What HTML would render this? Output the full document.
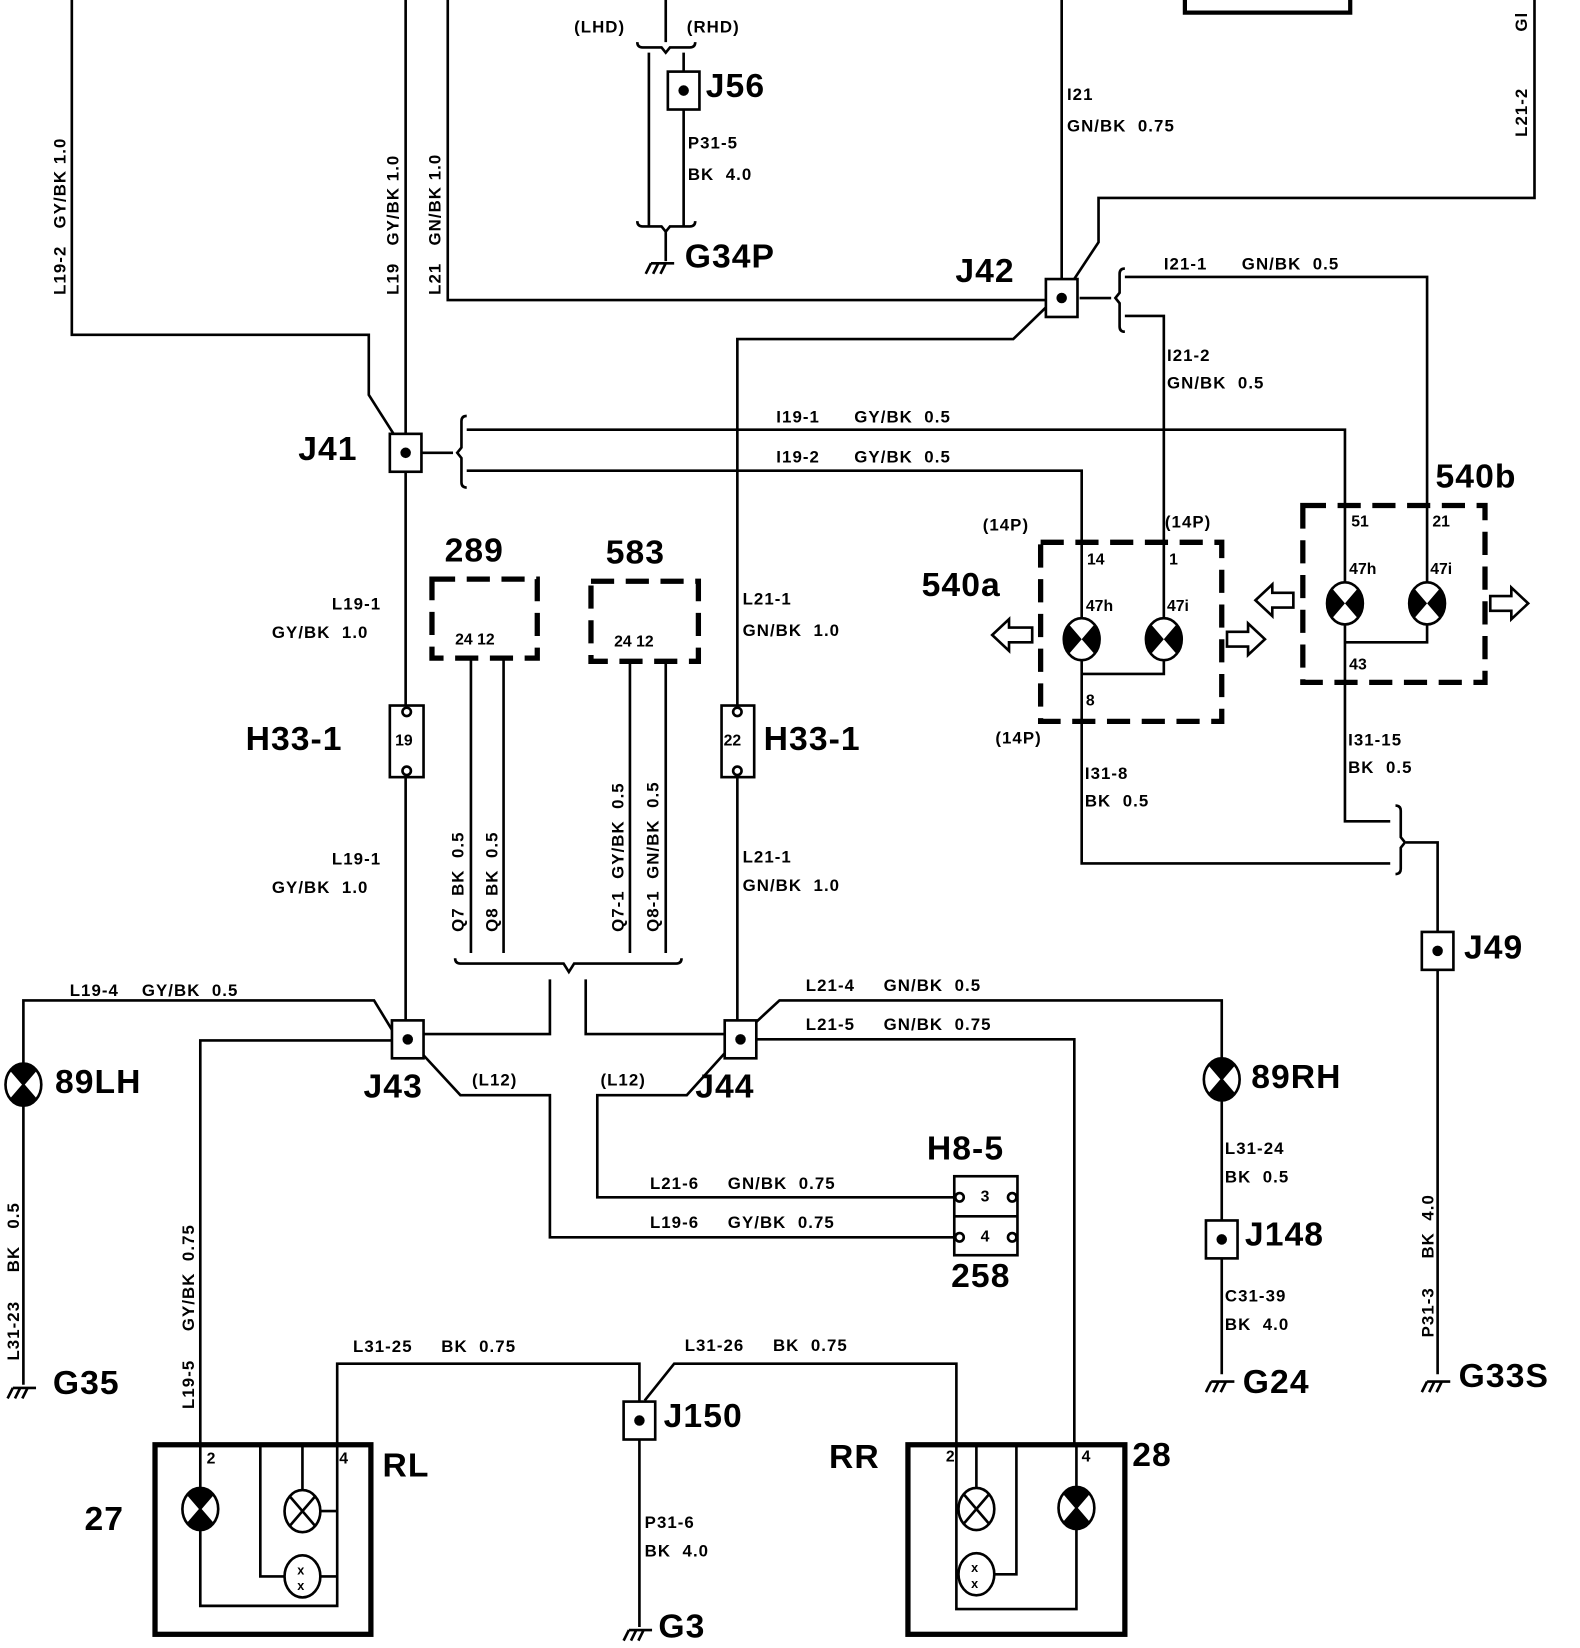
<!DOCTYPE html>
<html><head><meta charset="utf-8"><style>
html,body{margin:0;padding:0;background:#fff}
svg{display:block}
text{font-family:"Liberation Sans",sans-serif;font-weight:bold;fill:#000;white-space:pre}
.s{font-size:16px;letter-spacing:1px}
.L{font-size:32px;letter-spacing:1px}
.p{font-size:15px}
</style></head><body>
<svg width="1580" height="1648" viewBox="0 0 1500 1565" xmlns="http://www.w3.org/2000/svg" xml:space="preserve">
<defs>
<g id="bv"><ellipse cx="0" cy="0" rx="17" ry="20" fill="#fff" stroke="#000" stroke-width="2.5"/><path d="M0,0 L-12,-14 A17,20 0 0 1 12,-14 Z M0,0 L-12,14 A17,20 0 0 0 12,14 Z" fill="#000"/><path d="M-12,-14 L12,14 M12,-14 L-12,14" stroke="#000" stroke-width="2"/></g>
<g id="bh"><ellipse cx="0" cy="0" rx="17" ry="20" fill="#fff" stroke="#000" stroke-width="2.5"/><path d="M0,0 L-12,-14 A17,20 0 0 0 -12,14 Z M0,0 L12,-14 A17,20 0 0 1 12,14 Z" fill="#000"/></g>
<g id="bx"><ellipse cx="0" cy="0" rx="17" ry="20" fill="#fff" stroke="#000" stroke-width="2.5"/><path d="M-12,-14 L12,14 M12,-14 L-12,14" stroke="#000" stroke-width="2.5"/></g>
<g id="bs"><ellipse cx="0" cy="0" rx="17" ry="20" fill="#fff" stroke="#000" stroke-width="2.5"/><text x="-5" y="-2" style="font-size:12px">x</text><text x="-5" y="13" style="font-size:12px">x</text></g>
<g id="gnd"><path d="M-10,0 H12 M-10,0 l-5,10 M-3,0 l-5,10 M4,0 l-5,10" stroke="#000" stroke-width="2.5" fill="none"/></g>
<g id="jn"><rect x="-15" y="-18" width="30" height="36" fill="#fff" stroke="#000" stroke-width="2.5"/><circle r="5" fill="#000"/></g>
</defs>
<g stroke="#000" stroke-width="2.5" fill="none">
<path d="M68,0 V318 H350 V375 L385,430"/>
<path d="M385,0 V968 M385,1005 V988"/>
<path d="M425,0 V285 H993"/>
<path d="M632,0 V40 M605,40 q0,5 5,5 H628 l4,5 l4,-5 H655 q5,0 5,-5"/>
<path d="M616,50 V215 M649,104 V215 M649,50 V68"/>
<path d="M605,210 q0,5 5,5 H628 l4,5 l4,-5 H655 q5,0 5,-5 M632,220 V248"/>
<path d="M1125,0 V12 H1282 V0" stroke-width="4"/>
<path d="M1008,0 V265 M1457,0 V188 H1043 V230 L1008,283"/>
<path d="M995,290 L962,322 H700 V670 M700,738 V968"/>
<path d="M1025,283 H1055 M1068,255 q-5,0 -5,5 V278 l-4,5 l4,5 V310 q0,5 5,5"/>
<path d="M1068,263 H1355 V587 M1068,300 H1105 V620"/>
<path d="M400,430 H430 M443,395 q-5,0 -5,5 V425 l-4,5 l4,5 V458 q0,5 5,5"/>
<path d="M443,408 H1277 V587 M443,447 H1027 V620"/>
<path d="M1027,628 V820 H1320 M1105,628 V640 H1027"/>
<path d="M1277,593 V780 H1320 M1355,593 V610 H1277"/>
<path d="M1325,765 q5,0 5,5 V795 l4,5 l-4,5 V825 q0,5 -5,5 M1335,800 H1365 V885 M1365,922 V1305"/>
<path d="M447,625 V905 M478,625 V905 M598,628 V905 M632,628 V905"/>
<path d="M432,910 q0,5 5,5 H535 l5,8 l5,-8 H642 q5,0 5,-5"/>
<path d="M522,930 V982 H402 M556,930 V982 H688"/>
<path d="M372,978 L355,950 H22 V1010 M22,1050 V1315"/>
<path d="M372,988 H190 V1372"/>
<path d="M400,1000 L437,1040 H522 V1175 H907"/>
<path d="M690,998 L652,1040 H567 V1137 H907"/>
<path d="M712,976 L740,950 H1160 V1005 M1160,1045 V1160 M1160,1195 V1305"/>
<path d="M718,987 H1020 V1372"/>
<path d="M320,1372 V1295 H607 V1330 M607,1368 V1545 M612,1330 L640,1295 H908 V1372"/>
<rect x="147" y="1372" width="205" height="180" stroke-width="5"/>
<path d="M190,1372 V1525 H320 V1372 M247,1372 V1497 H270 M304,1497 H320 M287,1372 V1415 M304,1435 H320"/>
<rect x="862" y="1372" width="206" height="180" stroke-width="5"/>
<path d="M908,1372 V1528 H1022 V1452 M1022,1412 V1372 M965,1372 V1495 H944 M927,1372 V1413 M908,1433 H910 M908,1495 H910"/>
<g stroke-width="5" stroke-dasharray="22,11">
<rect x="410" y="550" width="100" height="75"/>
<rect x="561" y="552" width="102" height="76"/>
<rect x="988" y="515" width="172" height="170"/>
<rect x="1237" y="480" width="173" height="168"/>
</g>
<path d="M980,596 H958 V588 L942,603 L958,618 V610 H980 Z"/>
<path d="M1165,600 H1185 V592 L1201,607 L1185,622 V614 H1165 Z"/>
<path d="M1228,563 H1208 V555 L1192,570 L1208,585 V577 H1228 Z"/>
<path d="M1415,566 H1435 V558 L1451,573 L1435,588 V580 H1415 Z"/>
<rect x="370" y="670" width="32" height="68" fill="#fff"/>
<rect x="685" y="670" width="31" height="68" fill="#fff"/>
<circle cx="386" cy="676" r="4" fill="#fff"/><circle cx="386" cy="732" r="4" fill="#fff"/>
<circle cx="700" cy="676" r="4" fill="#fff"/><circle cx="700" cy="732" r="4" fill="#fff"/>
<rect x="906" y="1117" width="60" height="75" fill="#fff"/>
<path d="M906,1155 H966"/>
<circle cx="911" cy="1137" r="4" fill="#fff"/><circle cx="961" cy="1137" r="4" fill="#fff"/>
<circle cx="911" cy="1175" r="4" fill="#fff"/><circle cx="961" cy="1175" r="4" fill="#fff"/>
</g>
<use href="#jn" x="649" y="86"/>
<use href="#jn" x="1008" y="283"/>
<use href="#jn" x="385" y="430"/>
<use href="#jn" x="387" y="987"/>
<use href="#jn" x="703" y="987"/>
<use href="#jn" x="1365" y="903"/>
<use href="#jn" x="1160" y="1177"/>
<use href="#jn" x="607" y="1349"/>
<use href="#bh" x="1027" y="607"/><use href="#bh" x="1105" y="607"/>
<use href="#bh" x="1277" y="573"/><use href="#bh" x="1355" y="573"/>
<use href="#bv" x="22" y="1030"/><use href="#bv" x="1160" y="1025"/>
<use href="#bv" x="190" y="1433"/><use href="#bv" x="1022" y="1432"/>
<use href="#bx" x="287" y="1435"/><use href="#bx" x="927" y="1433"/>
<use href="#bs" x="287" y="1497"/><use href="#bs" x="927" y="1495"/>
<use href="#gnd" x="628" y="250"/><use href="#gnd" x="22" y="1318"/>
<use href="#gnd" x="607" y="1548"/><use href="#gnd" x="1160" y="1312"/>
<use href="#gnd" x="1365" y="1312"/>
<text class="s" transform="translate(62,280) rotate(-90)">L19-2   GY/BK 1.0</text>
<text class="s" transform="translate(378,280) rotate(-90)">L19   GY/BK 1.0</text>
<text class="s" transform="translate(418,280) rotate(-90)">L21   GN/BK 1.0</text>
<text class="s" transform="translate(1450,130) rotate(-90)">L21-2</text>
<text class="s" transform="translate(1450,30) rotate(-90)">Gl</text>
<text class="s" transform="translate(440,885) rotate(-90)">Q7  BK  0.5</text>
<text class="s" transform="translate(472,885) rotate(-90)">Q8  BK  0.5</text>
<text class="s" transform="translate(592,885) rotate(-90)">Q7-1  GY/BK  0.5</text>
<text class="s" transform="translate(625,885) rotate(-90)">Q8-1  GN/BK  0.5</text>
<text class="s" transform="translate(18,1292) rotate(-90)">L31-23     BK   0.5</text>
<text class="s" transform="translate(184,1338) rotate(-90)">L19-5     GY/BK  0.75</text>
<text class="s" transform="translate(1361,1270) rotate(-90)">P31-3     BK  4.0</text>
<text class="s" x="545" y="31">(LHD)</text><text class="s" x="652" y="31">(RHD)</text>
<text class="s" x="653" y="141">P31-5</text><text class="s" x="653" y="171">BK  4.0</text>
<text class="s" x="1013" y="95">I21</text><text class="s" x="1013" y="125">GN/BK  0.75</text>
<text class="s" x="1105" y="256">I21-1      GN/BK  0.5</text>
<text class="s" x="1108" y="343">I21-2</text><text class="s" x="1108" y="369">GN/BK  0.5</text>
<text class="s" x="737" y="401">I19-1      GY/BK  0.5</text>
<text class="s" x="737" y="439">I19-2      GY/BK  0.5</text>
<text class="s" x="933" y="504">(14P)</text><text class="s" x="1106" y="501">(14P)</text><text class="s" x="945" y="706">(14P)</text>
<text class="p" x="1032" y="536">14</text><text class="p" x="1110" y="536">1</text>
<text class="p" x="1031" y="580">47h</text><text class="p" x="1108" y="580">47i</text><text class="p" x="1031" y="670">8</text>
<text class="p" x="1283" y="500">51</text><text class="p" x="1360" y="500">21</text>
<text class="p" x="1281" y="545">47h</text><text class="p" x="1358" y="545">47i</text><text class="p" x="1281" y="636">43</text>
<text class="s" x="1030" y="740">I31-8</text><text class="s" x="1030" y="766">BK  0.5</text>
<text class="s" x="1280" y="708">I31-15</text><text class="s" x="1280" y="734">BK  0.5</text>
<text class="p" x="432" y="612">24 12</text><text class="p" x="583" y="614">24 12</text>
<text class="p" x="375" y="708">19</text><text class="p" x="687" y="708">22</text>
<text class="s" x="315" y="579">L19-1</text><text class="s" x="258" y="606">GY/BK  1.0</text>
<text class="s" x="315" y="821">L19-1</text><text class="s" x="258" y="848">GY/BK  1.0</text>
<text class="s" x="705" y="574">L21-1</text><text class="s" x="705" y="604">GN/BK  1.0</text>
<text class="s" x="705" y="819">L21-1</text><text class="s" x="705" y="846">GN/BK  1.0</text>
<text class="s" x="66" y="946">L19-4    GY/BK  0.5</text>
<text class="s" x="765" y="941">L21-4     GN/BK  0.5</text>
<text class="s" x="765" y="978">L21-5     GN/BK  0.75</text>
<text class="s" x="448" y="1031">(L12)</text><text class="s" x="570" y="1031">(L12)</text>
<text class="s" x="617" y="1129">L21-6     GN/BK  0.75</text>
<text class="s" x="617" y="1166">L19-6     GY/BK  0.75</text>
<text class="p" x="931" y="1141">3</text><text class="p" x="931" y="1179">4</text>
<text class="s" x="1163" y="1096">L31-24</text><text class="s" x="1163" y="1123">BK  0.5</text>
<text class="s" x="1163" y="1236">C31-39</text><text class="s" x="1163" y="1263">BK  4.0</text>
<text class="s" x="335" y="1284">L31-25     BK  0.75</text>
<text class="s" x="650" y="1283">L31-26     BK  0.75</text>
<text class="s" x="612" y="1451">P31-6</text><text class="s" x="612" y="1478">BK  4.0</text>
<text class="p" x="196" y="1390">2</text><text class="p" x="322" y="1390">4</text>
<text class="p" x="898" y="1388">2</text><text class="p" x="1027" y="1388">4</text>
<text class="L" x="670" y="92">J56</text>
<text class="L" x="650" y="254">G34P</text>
<text class="L" x="907" y="268">J42</text>
<text class="L" x="283" y="437">J41</text>
<text class="L" x="1363" y="463">540b</text>
<text class="L" x="875" y="566">540a</text>
<text class="L" x="422" y="533">289</text>
<text class="L" x="575" y="535">583</text>
<text class="L" x="233" y="712">H33-1</text>
<text class="L" x="725" y="712">H33-1</text>
<text class="L" x="1390" y="910">J49</text>
<text class="L" x="52" y="1038">89LH</text>
<text class="L" x="345" y="1042">J43</text>
<text class="L" x="660" y="1042">J44</text>
<text class="L" x="1188" y="1033">89RH</text>
<text class="L" x="880" y="1101">H8-5</text>
<text class="L" x="903" y="1222">258</text>
<text class="L" x="1182" y="1183">J148</text>
<text class="L" x="50" y="1324">G35</text>
<text class="L" x="1180" y="1323">G24</text>
<text class="L" x="1385" y="1317">G33S</text>
<text class="L" x="630" y="1355">J150</text>
<text class="L" x="363" y="1402">RL</text>
<text class="L" x="80" y="1453">27</text>
<text class="L" x="787" y="1394">RR</text>
<text class="L" x="1075" y="1392">28</text>
<text class="L" x="625" y="1555">G3</text>
</svg>
</body></html>
